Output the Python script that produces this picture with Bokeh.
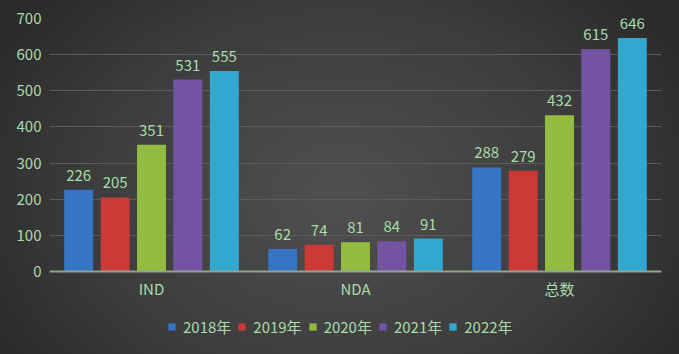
from bokeh.plotting import figure
from bokeh.models import ColumnDataSource, Legend, LegendItem, FactorRange
from bokeh.transform import dodge
from bokeh.core.properties import value
from bokeh.embed import file_html
from bokeh.resources import INLINE

categories = ["IND", "NDA", "总数"]
years = ["2018年", "2019年", "2020年", "2021年", "2022年"]
v2018 = [226, 62, 288]
v2019 = [205, 74, 279]
v2020 = [351, 81, 432]
v2021 = [531, 84, 615]
v2022 = [555, 91, 646]
series = [v2018, v2019, v2020, v2021, v2022]
colors = ["#3674c4", "#cc3a36", "#92bb40", "#7553a3", "#30a8d0"]
offsets = [-0.357, -0.178, 0.0, 0.178, 0.357]

FONT = "Noto Sans CJK SC"
TXT = "#a9dcaa"

# frame spans the whole height below the top margin; value axis 0..700 occupies the upper 253 px
p = figure(x_range=FactorRange(*categories, range_padding=0), y_range=(-229.6, 700),
           frame_width=612, frame_height=336, output_backend="svg", toolbar_location=None,
           min_border_left=49, min_border_right=18, min_border_top=18, min_border_bottom=0)
p.styles = {"background": "radial-gradient(ellipse 390px 290px at 340px 195px, #505050 0%, #3c3c3c 65%, #2b2b2b 100%)"}
p.background_fill_color = None
p.border_fill_color = None
p.outline_line_color = None

data = {"cat": categories}
for y, s in zip(years, series):
    data[y] = s
    data[y + "_t"] = [str(v) for v in s]
src = ColumnDataSource(data)

items = []
for y, c, off in zip(years, colors, offsets):
    r = p.vbar(x=dodge("cat", off, range=p.x_range), top=y, bottom=0, width=0.142, source=src,
               fill_color=c, line_color=None)
    p.text(x=dodge("cat", off, range=p.x_range), y=y, text=y + "_t", source=src,
           text_align="center", text_baseline="bottom", y_offset=-9,
           text_color=TXT, text_font=value(FONT), text_font_size="15px")
    items.append(LegendItem(label=y, renderers=[r]))

legend = Legend(items=items, orientation="horizontal", location=(115, 14),
                label_text_color=TXT, label_text_font=FONT, label_text_font_size="15px",
                glyph_width=9, glyph_height=9, spacing=6, label_standoff=7,
                background_fill_alpha=0, border_line_alpha=0, padding=3, margin=0)
p.add_layout(legend, "center")

p.xgrid.grid_line_color = None
p.ygrid.grid_line_color = "#5c5c5c"
p.ygrid.grid_line_width = 1
p.yaxis.ticker = [0, 100, 200, 300, 400, 500, 600, 700]
p.yaxis.axis_line_color = None
p.yaxis.major_tick_line_color = None
p.yaxis.minor_tick_line_color = None
p.yaxis.major_tick_out = 0
p.yaxis.major_label_text_color = TXT
p.yaxis.major_label_text_font = FONT
p.yaxis.major_label_text_font_size = "15px"
p.yaxis.major_label_standoff = 8

p.xaxis.fixed_location = 0
p.xaxis.axis_line_color = "#8fa58f"
p.xaxis.axis_line_width = 2
p.xaxis.major_tick_line_color = None
p.xaxis.minor_tick_line_color = None
p.xaxis.major_tick_out = 0
p.xaxis.major_label_text_color = TXT
p.xaxis.major_label_text_font = FONT
p.xaxis.major_label_text_font_size = "15px"
p.xaxis.major_label_standoff = 6

open("out.html", "w").write(file_html(p, INLINE))
